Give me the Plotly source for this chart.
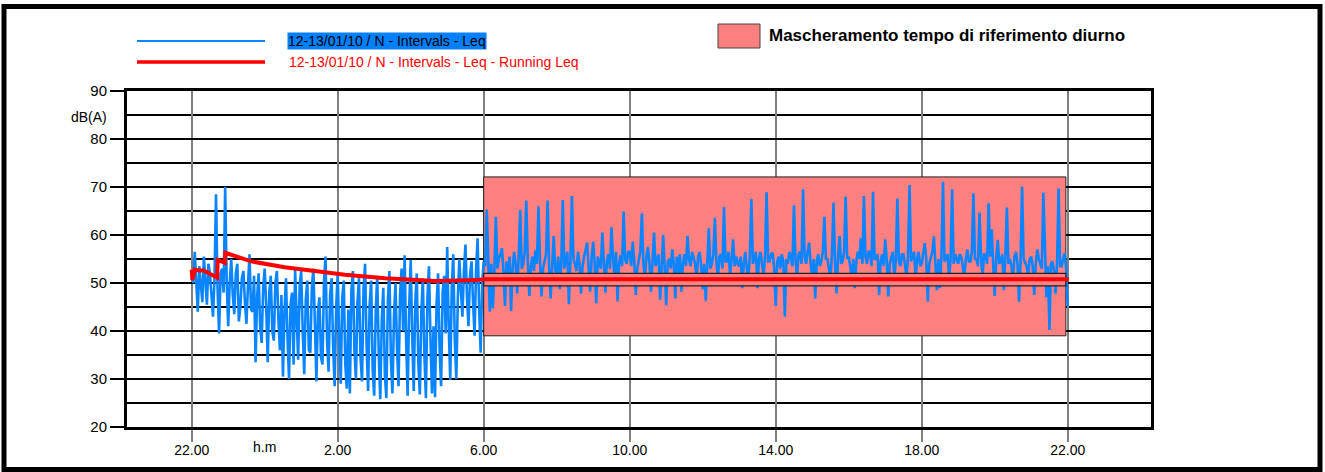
import plotly.graph_objects as go

# ---------------- data ----------------
STEP_MIN = 2.5  # interval length in minutes
# hours after 22.00 of day 1; tick labels
tick_hours = [0, 4, 8, 12, 16, 20, 24]
tick_labels = ["22.00", "2.00", "6.00", "10.00", "14.00", "18.00", "22.00"]

# Intervals Leq, night 22.00 -> 5.57.30 (one row per hour)
night_leq = [
    52.5, 50.0, 56.5, 49.0, 44.0, 53.5, 50.5, 46.0, 55.5, 50.0, 45.5, 54.0, 52.0, 47.5, 43.0, 51.0, 68.5, 49.0, 39.5, 52.0, 53.0, 48.0, 70.0, 50.5,  # 22
    41.0, 50.0, 55.0, 47.5, 43.5, 52.0, 54.0, 42.0, 45.0, 51.0, 52.5, 46.0, 41.5, 49.5, 56.0, 44.5, 44.0, 51.5, 33.5, 47.0, 52.0, 41.0, 37.5, 49.0,  # 23
    53.0, 45.0, 33.5, 48.0, 51.5, 40.0, 38.0, 50.0, 52.5, 42.5, 36.0, 47.5, 30.5, 44.0, 51.0, 38.5, 30.0, 45.5, 48.0, 33.0, 52.7, 43.0, 34.0, 49.5,  # 0
    52.5, 40.0, 31.0, 46.5, 50.5, 36.0, 35.5, 49.0, 53.0, 41.5, 29.5, 44.0, 47.0, 34.5, 33.0, 50.5, 55.5, 38.0, 31.5, 47.5, 51.0, 36.5, 28.5, 45.0,  # 1
    52.0, 38.5, 29.0, 47.0, 50.5, 33.0, 28.0, 44.5, 27.0, 48.5, 52.5, 36.0, 30.0, 46.0, 51.0, 34.5, 29.5, 49.0, 54.0, 37.0, 27.5, 45.5, 50.5, 32.0,  # 2
    26.5, 44.0, 51.5, 35.0, 25.8, 42.5, 49.0, 31.0, 26.0, 46.5, 52.5, 34.0, 27.0, 43.0, 50.0, 36.5, 28.5, 47.5, 53.0, 40.0, 55.8, 38.0, 26.5, 45.0,  # 3
    54.8, 39.0, 27.5, 46.0, 52.0, 33.5, 26.8, 44.0, 51.0, 35.0, 26.0, 47.0, 53.5, 38.5, 27.0, 41.0, 26.2, 45.5, 52.0, 36.0, 28.5, 48.0, 51.5, 39.5,  # 4
    57.5, 41.0, 29.8, 49.0, 56.0, 38.0, 30.0, 47.0, 55.0, 48.5, 43.0, 52.5, 58.0, 47.0, 41.0, 51.5, 54.5, 46.0, 39.0, 53.0, 59.3, 44.5, 35.5, 50.0,  # 5
]
# Intervals Leq, day 6.00 -> 22.00 (one row per hour)
day_leq = [
    54.5, 53.5, 65.3, 55.0, 44.0, 54.0, 44.7, 52.5, 63.8, 53.0, 55.0, 56.0, 57.2, 52.5, 45.2, 54.5, 51.5, 55.5, 44.2, 53.0, 56.5, 54.0, 47.8, 55.5,  # 6
    65.2, 53.0, 54.0, 56.5, 67.2, 54.5, 47.3, 53.5, 55.5, 52.5, 56.8, 54.0, 66.0, 55.0, 47.2, 53.0, 54.5, 56.0, 67.2, 53.5, 46.8, 55.0, 59.8, 53.0,  # 7
    51.0, 55.5, 48.7, 54.0, 67.3, 53.0, 55.0, 56.5, 45.6, 54.5, 68.1, 55.0, 54.0, 52.5, 56.5, 54.0, 47.8, 53.5, 55.5, 57.0, 58.4, 53.0, 48.2, 55.5,  # 8
    58.6, 54.0, 45.8, 55.5, 54.5, 53.0, 60.5, 55.0, 48.0, 54.5, 56.0, 53.0, 61.6, 55.5, 51.5, 56.5, 46.2, 54.0, 55.8, 53.5, 64.9, 55.0, 54.0, 56.5,  # 9
    56.5, 53.5, 58.6, 54.5, 47.5, 53.0, 55.0, 56.5, 64.5, 54.0, 51.0, 55.5, 57.5, 54.0, 48.2, 55.0, 60.5, 53.5, 54.5, 56.0, 46.5, 54.5, 60.0, 53.0,  # 10
    45.4, 54.5, 55.0, 53.0, 57.0, 54.0, 46.8, 55.5, 51.5, 56.0, 48.2, 54.0, 56.0, 53.5, 59.8, 55.0, 53.5, 56.5, 55.5, 54.0, 51.0, 55.5, 56.5, 53.5,  # 11
    48.7, 54.0, 46.3, 55.5, 61.4, 53.0, 54.0, 56.0, 63.6, 54.5, 51.0, 55.5, 56.0, 53.0, 65.8, 54.5, 54.5, 56.5, 51.5, 55.0, 59.1, 53.5, 55.5, 54.0,  # 12
    53.5, 55.5, 48.9, 54.0, 56.5, 53.0, 51.0, 55.5, 67.5, 54.0, 55.0, 56.5, 48.9, 55.0, 56.5, 53.5, 51.5, 55.5, 68.9, 54.5, 54.5, 56.0, 56.3, 53.0,  # 13
    45.2, 54.5, 55.5, 53.0, 56.0, 54.5, 43.0, 55.0, 54.0, 56.5, 55.5, 53.5, 66.2, 55.0, 51.0, 56.0, 56.5, 54.0, 69.5, 55.5, 54.0, 56.5, 58.4, 54.0,  # 14
    51.5, 55.0, 46.8, 54.5, 56.0, 53.5, 54.5, 56.5, 63.8, 55.0, 55.0, 53.0, 51.0, 56.0, 66.7, 54.5, 47.8, 55.5, 59.8, 54.0, 54.5, 56.5, 68.0, 55.0,  # 15
    55.5, 53.5, 51.0, 55.0, 48.9, 54.5, 56.5, 55.0, 59.3, 54.0, 68.1, 55.5, 54.0, 56.5, 56.5, 53.5, 69.0, 55.0, 55.0, 56.0, 47.5, 54.5, 56.0, 53.5,  # 16
    59.1, 55.0, 47.2, 54.0, 55.5, 56.5, 51.0, 55.0, 67.6, 54.5, 53.5, 56.0, 56.0, 54.0, 51.5, 55.5, 70.4, 54.5, 55.5, 56.5, 51.0, 55.0, 56.5, 53.5,  # 17
    54.0, 56.5, 58.3, 55.0, 46.1, 54.0, 55.0, 56.5, 59.7, 54.5, 48.5, 55.0, 48.9, 55.5, 71.1, 54.5, 55.5, 56.0, 51.0, 55.0, 69.5, 54.0, 56.0, 55.0,  # 18
    54.0, 56.0, 55.5, 53.5, 51.0, 55.0, 57.0, 54.5, 54.5, 56.5, 68.7, 55.0, 55.0, 53.5, 64.7, 55.5, 51.5, 56.0, 56.0, 54.0, 66.6, 55.5, 61.2, 54.0,  # 19
    47.3, 55.0, 59.0, 54.0, 54.5, 56.0, 48.5, 55.5, 65.7, 54.0, 55.0, 53.5, 51.0, 55.5, 56.5, 54.0, 46.1, 54.5, 70.1, 55.0, 54.0, 53.5, 51.5, 55.0,  # 20
    55.5, 53.5, 47.5, 54.0, 57.0, 55.0, 54.0, 53.0, 68.8, 54.5, 47.0, 53.5, 40.2, 54.0, 54.5, 52.5, 47.8, 54.0, 69.7, 53.5, 53.5, 55.0, 56.2, 53.0,  # 21
    45.1,                                                                                                                                          # 22.00
]
# Running Leq (hours after 22.00, dB)
running_t = [0.0, 0.02, 0.08, 0.2, 0.33, 0.5, 0.7, 0.71, 0.91, 0.92, 1.63, 2.55,
             3.46, 3.93, 4.2, 5.3, 6.67, 7.76, 8.0, 24.03]
running_leq = [52.8, 50.6, 52.8, 52.6, 52.6, 51.8, 51.1, 54.8, 54.2, 56.3, 54.5, 53.3,
               52.4, 52.0, 51.7, 51.0, 50.4, 50.6, 50.77, 50.77]
# daytime reference-period mask (hours, dB)
mask_hours = [8, 23.95]
mask_db = [39.0, 72.1]
band_db = [49.4, 52.0]

# ---------------- figure ----------------
FONT = "Liberation Sans, Arial, sans-serif"
BLUE = "#0A84FF"
PINK = "#FF8080"

h = STEP_MIN / 60.0
night_t = [i * h for i in range(len(night_leq))]
day_t = [mask_hours[0] + i * h for i in range(len(day_leq))]
all_t = night_t + day_t
all_leq = night_leq + day_leq

fig = go.Figure()
# big pink mask
fig.add_trace(go.Scatter(
    x=[mask_hours[0], mask_hours[1], mask_hours[1], mask_hours[0], mask_hours[0]],
    y=[mask_db[0], mask_db[0], mask_db[1], mask_db[1], mask_db[0]],
    fill="toself", fillcolor=PINK, mode="lines",
    line=dict(color="#222222", width=1), hoverinfo="skip", showlegend=False))
# Intervals Leq
fig.add_trace(go.Scatter(x=all_t, y=all_leq, mode="lines",
                         line=dict(color=BLUE, width=2.6), showlegend=False))
# band box over the data
fig.add_trace(go.Scatter(
    x=[mask_hours[0], mask_hours[1], mask_hours[1], mask_hours[0], mask_hours[0]],
    y=[band_db[0], band_db[0], band_db[1], band_db[1], band_db[0]],
    fill="toself", fillcolor=PINK, mode="lines",
    line=dict(color="#222222", width=1.3), hoverinfo="skip", showlegend=False))
# Running Leq
fig.add_trace(go.Scatter(x=running_t, y=running_leq, mode="lines",
                         line=dict(color="#FF0000", width=4), showlegend=False))

L, R, T, B = 127, 174, 91, 45
W, H = 1325, 472
PW, PH = W - L - R, H - T - B


def px(xp):
    return (xp - L) / PW


def py(yp):
    return (H - B - yp) / PH


shapes = [
    # outer frame
    dict(type="rect", xref="paper", yref="paper", x0=px(4), x1=px(1320), y0=py(469.5), y1=py(6.5),
         line=dict(color="black", width=5), fillcolor="rgba(0,0,0,0)", layer="above"),
    # legend line samples
    dict(type="line", xref="paper", yref="paper", x0=px(137), x1=px(265), y0=py(41), y1=py(41),
         line=dict(color=BLUE, width=2)),
    dict(type="line", xref="paper", yref="paper", x0=px(137), x1=px(265), y0=py(62), y1=py(62),
         line=dict(color="#FF0000", width=3.5)),
    # mask swatch
    dict(type="rect", xref="paper", yref="paper", x0=px(718), x1=px(760), y0=py(48), y1=py(24),
         line=dict(color="#444444", width=1), fillcolor=PINK),
]

annotations = [
    dict(text="12-13/01/10 / N - Intervals - Leq", xref="paper", yref="paper",
         x=px(287), y=py(41), xanchor="left", yanchor="middle", showarrow=False,
         bgcolor="#0080FF", borderpad=0, font=dict(family=FONT, size=14, color="black")),
    dict(text="12-13/01/10 / N - Intervals - Leq - Running Leq", xref="paper", yref="paper",
         x=px(287), y=py(62), xanchor="left", yanchor="middle", showarrow=False,
         font=dict(family=FONT, size=14, color="#FF0000")),
    dict(text="<b>Mascheramento tempo di riferimento diurno</b>", xref="paper", yref="paper",
         x=px(767), y=py(36), xanchor="left", yanchor="middle", showarrow=False,
         font=dict(family=FONT, size=17, color="black")),
    dict(text="dB(A)", xref="paper", yref="paper", x=px(109), y=py(117),
         xanchor="right", yanchor="middle", showarrow=False,
         font=dict(family=FONT, size=14, color="black")),
    dict(text="h.m", xref="x", yref="paper", x=2, y=py(447),
         xanchor="center", yanchor="middle", showarrow=False,
         font=dict(family=FONT, size=14, color="black")),
]

fig.update_layout(
    width=W, height=H,
    margin=dict(l=L, r=R, t=T, b=B, pad=0),
    paper_bgcolor="white", plot_bgcolor="white",
    font=dict(family=FONT, size=14, color="black"),
    showlegend=False,
    shapes=shapes, annotations=annotations,
    xaxis=dict(range=[(127 - 191.7) / 36.5, (1151 - 191.7) / 36.5],
               tickmode="array", tickvals=tick_hours, ticktext=tick_labels,
               ticks="outside", ticklen=12, tickwidth=1.5, tickcolor="#808080",
               ticklabelstandoff=-4,
               showgrid=True, gridcolor="#808080", gridwidth=1.5,
               showline=True, linecolor="black", linewidth=3, mirror=True,
               zeroline=False, tickfont=dict(family=FONT, size=14, color="black")),
    yaxis=dict(range=[20, 90], tickmode="linear", tick0=20, dtick=10,
               ticks="outside", ticklen=14, tickwidth=1.5, tickcolor="black",
               showgrid=True, gridcolor="black", gridwidth=2.2,
               minor=dict(dtick=5, showgrid=True, gridcolor="black", gridwidth=1.6, ticks=""),
               showline=True, linecolor="black", linewidth=3, mirror=True,
               zeroline=False, tickfont=dict(family=FONT, size=15, color="black")),
)

fig.write_html("out.html", config={"displayModeBar": False},
               post_script="document.body.style.margin='0px';")
